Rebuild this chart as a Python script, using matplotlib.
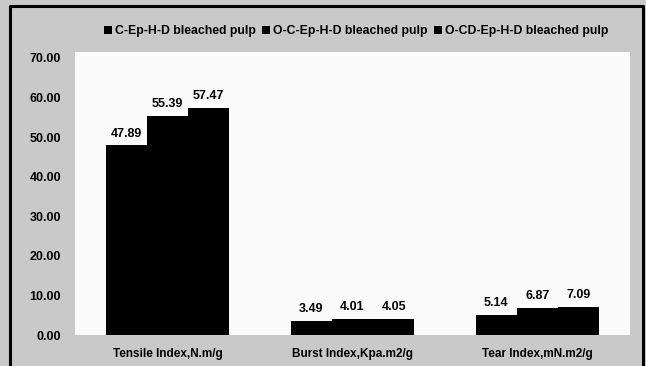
import numpy as np
import matplotlib
matplotlib.use('Agg')
from matplotlib import pyplot as plt
from matplotlib.lines import Line2D

plt.rcParams['font.family'] = ['Liberation Sans', 'DejaVu Sans']

categories = ['Tensile Index,N.m/g', 'Burst Index,Kpa.m2/g', 'Tear Index,mN.m2/g']
series_names = ['C-Ep-H-D bleached pulp', 'O-C-Ep-H-D bleached pulp', 'O-CD-Ep-H-D bleached pulp']
c_ep = [47.89, 3.49, 5.14]
oc_ep = [55.39, 4.01, 6.87]
ocd_ep = [57.47, 4.05, 7.09]
yticks = [0, 10, 20, 30, 40, 50, 60, 70]

fig = plt.figure(figsize=(6.46, 3.66), dpi=100, facecolor='#c9c9c9')
# outer frame of the chart (bottom edge runs off the scan)
fx = [10 / 646, 10 / 646, 643 / 646, 643 / 646]
fy = [0, 1 - 6 / 366, 1 - 6 / 366, 0]
fig.lines.append(Line2D(fx, fy, transform=fig.transFigure, color='black', linewidth=2.2))

ax = fig.add_axes([75 / 646, 31 / 366, 555 / 646, 283 / 366])
ax.set_facecolor('#fbfbfb')

x = np.arange(len(categories))
w = 0.222
for i, vals in enumerate([c_ep, oc_ep, ocd_ep]):
    bars = ax.bar(x + (i - 1) * w, vals, w, color='black', label=series_names[i])
    for b, v in zip(bars, vals):
        ax.text(b.get_x() + b.get_width() / 2, v + 1.5, '%.2f' % v, ha='center', va='bottom',
                fontsize=9, fontweight='bold')

ax.set_xlim(-0.5, 2.5)
ax.set_ylim(0, 71.5)
ax.set_yticks(yticks)
ax.set_yticklabels(['%.2f' % t for t in yticks], fontsize=9, fontweight='bold')
ax.set_xticks(x)
ax.set_xticklabels(categories, fontsize=8.5, fontweight='bold')
ax.tick_params(axis='y', length=0, pad=10)
ax.tick_params(axis='x', length=0, pad=9)
for s in ax.spines.values():
    s.set_visible(False)

fig.legend(loc='center', bbox_to_anchor=(0.551, 0.915), ncol=3, frameon=False,
           prop={'weight': 'bold', 'size': 8.8}, handlelength=0.65, handleheight=0.65,
           handletextpad=0.25, columnspacing=0.5)

plt.savefig('out.png', dpi=100, facecolor=fig.get_facecolor())
